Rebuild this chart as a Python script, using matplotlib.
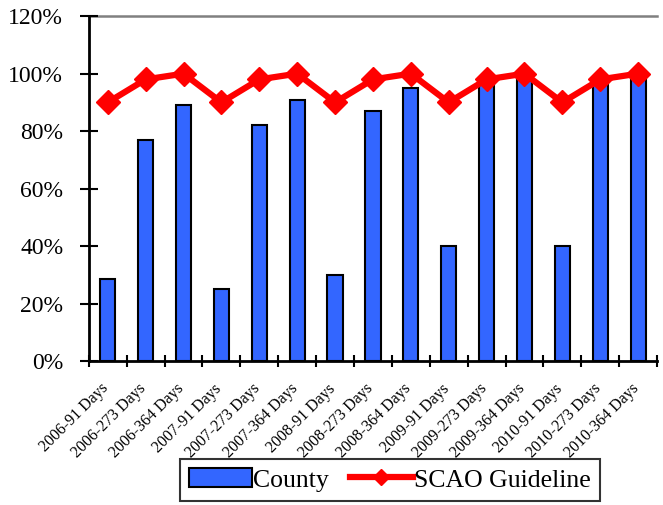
import matplotlib
matplotlib.use('Agg')
import matplotlib.pyplot as plt
import numpy as np
from matplotlib.ticker import FuncFormatter

# Данные: доля дел, закрытых в срок, по годам и срокам
categories = ['2006-91 Days', '2006-273 Days', '2006-364 Days',
              '2007-91 Days', '2007-273 Days', '2007-364 Days',
              '2008-91 Days', '2008-273 Days', '2008-364 Days',
              '2009-91 Days', '2009-273 Days', '2009-364 Days',
              '2010-91 Days', '2010-273 Days', '2010-364 Days']
county = [28.5, 77, 89, 25, 82, 91, 30, 87, 95, 40, 97, 99, 40, 98, 100]
guideline = [90, 98, 100, 90, 98, 100, 90, 98, 100, 90, 98, 100, 90, 98, 100]

plt.rcParams['font.family'] = 'Liberation Serif'

fig = plt.figure(figsize=(6.63, 5.05), dpi=100)
ax = fig.add_axes([0.134, 0.285, 0.857, 0.683])

x = np.arange(len(categories))
bars = ax.bar(x, county, width=0.4, color='#3366FF', edgecolor='black',
              linewidth=1.5, label='County', zorder=2)
line, = ax.plot(x, guideline, color='red', linewidth=4.5, marker='D',
                markersize=12.5, label='SCAO Guideline', zorder=3)

# Оси
ax.set_xlim(-0.5, len(categories) - 0.5)
ax.set_ylim(0, 120)
ax.set_yticks(np.arange(0, 121, 20))
ax.yaxis.set_major_formatter(FuncFormatter(lambda v, p: f'{v:.0f}%'))
ax.tick_params(axis='y', labelsize=17, direction='inout', length=13,
               width=1.5, pad=12)

# Подписи категорий чуть левее центра столбца
ax.set_xticks(x - 0.2)
ax.set_xticklabels(categories, rotation=45, ha='right',
                   rotation_mode='anchor', fontsize=11.5)
ax.set_xticks(np.arange(-0.5, len(categories), 1.0), minor=True)
ax.tick_params(axis='x', which='major', length=0, pad=14)
ax.tick_params(axis='x', which='minor', direction='inout', length=9, width=1.5)

# Только верхняя линия сетки на 120%
ax.axhline(120, color='gray', linewidth=1.8, zorder=1, clip_on=False)
for s in ['top', 'right']:
    ax.spines[s].set_visible(False)
ax.spines['left'].set_linewidth(2)
ax.spines['bottom'].set_linewidth(2)

leg = fig.legend(handles=[bars, line], loc='center',
                 bbox_to_anchor=(390 / 663, 1 - 480 / 505), ncol=2,
                 fontsize=18.5, frameon=True, fancybox=False,
                 handlelength=2.45, handleheight=0.75, columnspacing=0.8,
                 handletextpad=0.05, borderpad=0.35, borderaxespad=0)
leg.get_frame().set_edgecolor('black')
leg.get_frame().set_linewidth(1.5)
leg.legend_handles[1].set_markersize(8)

fig.savefig('out.png', dpi=100)
